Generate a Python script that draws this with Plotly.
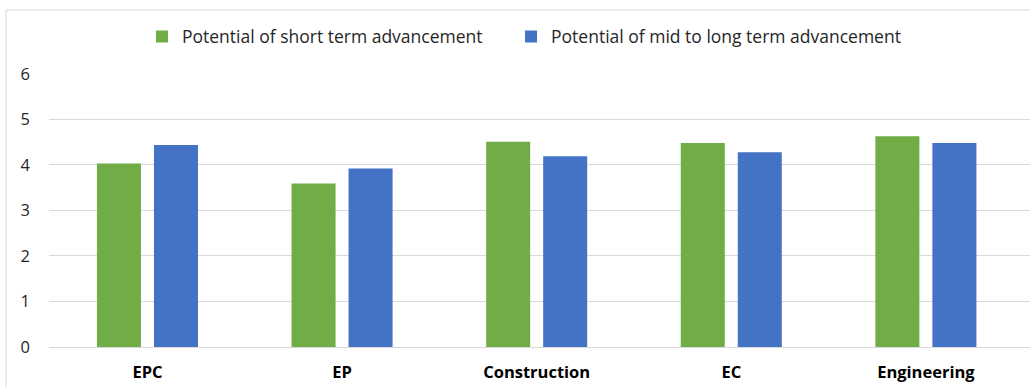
import plotly.graph_objects as go

# Company type categories and average advancement scores
categories = ["EPC", "EP", "Construction", "EC", "Engineering"]
short_term = [4.03, 3.59, 4.51, 4.48, 4.63]
mid_long_term = [4.44, 3.92, 4.19, 4.28, 4.48]
y_ticks = [0, 1, 2, 3, 4, 5, 6]

GREEN = "#70AD47"
BLUE = "#4472C4"
GRID = "#D9D9D9"
FONT = "Open Sans"

fig = go.Figure()
fig.add_trace(go.Bar(
    name="Potential of short term advancement",
    x=categories, y=short_term, marker_color=GREEN, marker_line_width=0,
    legend="legend",
))
fig.add_trace(go.Bar(
    name="Potential of mid to long term advancement",
    x=categories, y=mid_long_term, marker_color=BLUE, marker_line_width=0,
    legend="legend2",
))

legend_style = dict(
    orientation="h", xanchor="left", y=1.1326, yanchor="middle",
    font=dict(family=FONT, size=17.5, color="#262626"),
    bgcolor="rgba(0,0,0,0)",
)

fig.update_layout(
    width=1030, height=387,
    margin=dict(l=49, r=0, t=73, b=40),
    paper_bgcolor="white", plot_bgcolor="white",
    barmode="group", bargap=0.414, bargroupgap=0.228,
    font=dict(family=FONT, size=16.5, color="#262626"),
    showlegend=True,
    legend=dict(x=0.0948, **legend_style),
    legend2=dict(x=0.471, **legend_style),
    xaxis=dict(
        type="category", range=[-0.506, 4.535],
        showgrid=False, showline=False, ticks="",
        tickfont=dict(family=FONT, size=16.5, color="#000000", weight="bold"),
        ticklabelstandoff=13,
    ),
    yaxis=dict(
        range=[0, 6.02], tickvals=y_ticks,
        showgrid=True, gridcolor=GRID, gridwidth=1,
        zeroline=True, zerolinecolor=GRID, zerolinewidth=1,
        showline=False, ticks="",
        tickfont=dict(family=FONT, size=16.5, color="#262626"),
        ticklabelstandoff=18,
    ),
    shapes=[
        # chart frame: top and left edges
        dict(type="line", xref="paper", yref="paper",
             x0=-0.0438, x1=1.05, y0=1.23, y1=1.23,
             line=dict(color=GRID, width=1)),
        dict(type="line", xref="paper", yref="paper",
             x0=-0.0438, x1=-0.0438, y0=1.23, y1=-0.2,
             line=dict(color=GRID, width=1)),
    ],
)

fig.write_html("out.html")
